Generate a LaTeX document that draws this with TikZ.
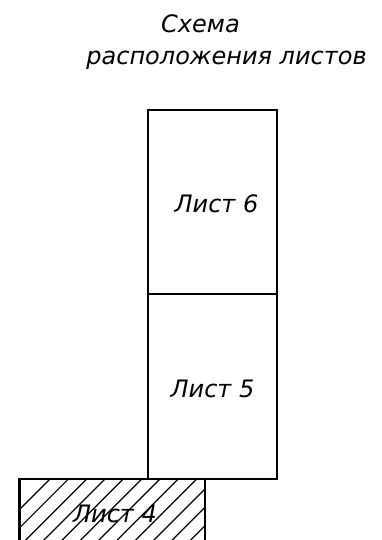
\documentclass[tikz,border=0pt]{standalone}
\usepackage{fontspec}
\setmainfont{DejaVu Sans}
\begin{document}
\begin{tikzpicture}[x=1pt, y=-1pt,
  sheet/.style={draw, line width=2.4pt, rectangle, inner sep=0pt, outer sep=0pt},
  caption/.style={font=\fontsize{24}{28}\selectfont\itshape, anchor=base, inner sep=0pt},
  hatchline/.style={line width=1.2pt}]
  \useasboundingbox (0,0) rectangle (381,540);
  \begin{scope}
    \clip (0,0) rectangle (381,540);
    % sheets in a column, the lower one shifted left
    \node[sheet, minimum width=129pt, minimum height=184pt] (s6) at (212.5,202) {};
    \node[sheet, minimum width=129pt, minimum height=185pt] (s5) at (212.5,386.5) {};
    \node[sheet, minimum width=185.5pt, minimum height=90pt] (s4) at (112.25,524) {};
    % hatching of sheet 4
    \begin{scope}
      \clip (s4.south west) rectangle (s4.north east);
      \foreach \k in {-6,...,7}{
        \pgfmathsetmacro{\c}{639+18.33*\k}
        \draw[hatchline] (\c-620,620) -- (\c-440,440);
      }
    \end{scope}
    \draw[sheet] (s4.south west) rectangle (s4.north east);
  \end{scope}
  % titles
  \node[caption] (t1) at (200.5,33) {Схема};
  \node[caption] (t2) at (226.5,65) {расположения листов};
  % sheet labels
  \node[caption] (l6) at (216.5,212) {Лист 6};
  \node[caption] (l5) at (212.5,397) {Лист 5};
  \node[caption] (l4) at (115,522) {Лист 4};
\end{tikzpicture}
\end{document}
